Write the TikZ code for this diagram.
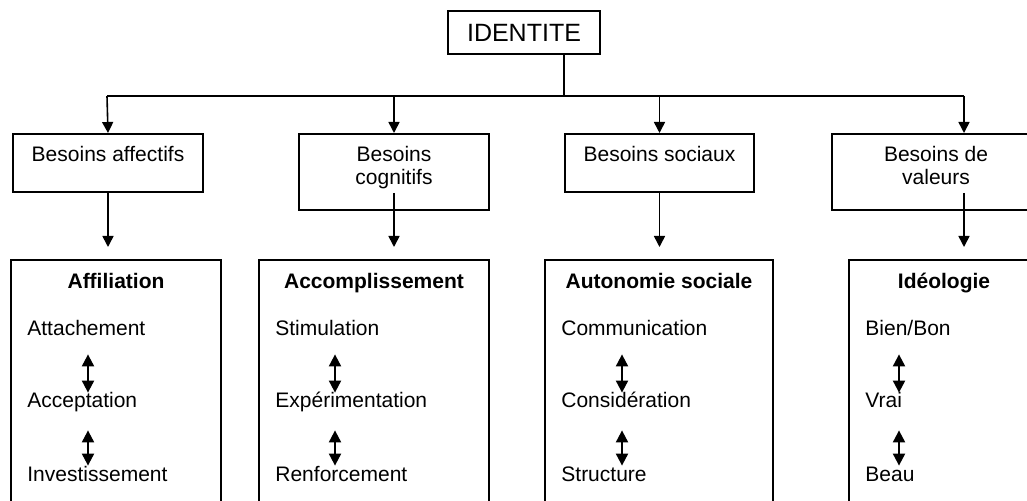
\documentclass[tikz,border=0pt]{standalone}
\usepackage{fontspec}
\setmainfont{Liberation Sans}
\usetikzlibrary{arrows.meta,positioning}

\tikzset{
	need/.style={draw, line width=1pt, inner sep=0pt},
	lab/.style={inner sep=0pt, align=center, font=\fontsize{10.5}{11.5}\selectfont},
	titre/.style={inner sep=0pt, font=\fontsize{10.5}{12}\selectfont\bfseries},
	item/.style={inner sep=0pt, anchor=base west, text height=8pt, text depth=2.5pt, font=\fontsize{10.5}{12}\selectfont},
	down/.style={-{Triangle[width=5.5pt,length=5.5pt]}, line width=0.8pt},
	both/.style={{Triangle[width=6pt,length=6pt]}-{Triangle[width=6pt,length=6pt]}, line width=1pt, shorten <=6.5pt, shorten >=-0.5pt}
}

\begin{document}
\begin{tikzpicture}[x=0.5pt, y=-0.5pt]
\useasboundingbox (0,0) rectangle (1027,501);
\clip (0,0) rectangle (1027,501);

\node[need, minimum width=76pt, minimum height=21.5pt, font=\fontsize{12.5}{15}\selectfont] (identite) at (524,32.5) {IDENTITE};
\coordinate (split) at (564,96);
\coordinate (h1) at (107,96);
\coordinate (h4) at (964,96);

\node[need, anchor=north west, minimum width=95pt, minimum height=29pt] (affectifs) at (12,133) {};
\node[need, anchor=north west, minimum width=95pt, minimum height=38pt] (cognitifs) at (298,133) {};
\node[need, anchor=north west, minimum width=94.5pt, minimum height=29pt] (sociaux) at (564,133) {};
\node[need, anchor=north west, minimum width=104pt, minimum height=38pt] (valeurs) at (831,133) {};

\node[lab, below=6.5pt of affectifs.north] (l1) {Besoins affectifs};
\node[lab, below=6.5pt of cognitifs.north] (l2) {Besoins\\cognitifs};
\node[lab, below=6.5pt of sociaux.north] (l3) {Besoins sociaux};
\node[lab, below=6.5pt of valeurs.north] (l4) {Besoins de\\valeurs};

\draw[line width=1pt] (identite.south -| split) -- (split);
\draw[line width=1pt] (h1) -- (h4);
\draw[down] (h1) -- (affectifs.north);
\draw[down] (cognitifs.north |- split) -- (cognitifs.north);
\draw[down] (sociaux.north |- split) -- (sociaux.north);
\draw[down] (h4) -- (h4 |- valeurs.north);

\node[need, anchor=north west, minimum width=105pt, minimum height=130pt] (affiliation) at (10,259) {};
\node[need, anchor=north west, minimum width=115pt, minimum height=130pt] (accomp) at (258,259) {};
\node[need, anchor=north west, minimum width=114pt, minimum height=130pt] (autonomie) at (544,259) {};
\node[need, anchor=north west, minimum width=95pt, minimum height=130pt] (ideologie) at (848,259) {};

\draw[down, shorten >=6pt] (affectifs.south) -- (affectifs.south |- affiliation.north);
\draw[down, shorten >=6pt] (cognitifs.south |- affectifs.south) -- (cognitifs.south |- accomp.north);
\draw[down, shorten >=6pt] (sociaux.south) -- (sociaux.south |- autonomie.north);
\draw[down, shorten >=6pt] (h4 |- affectifs.south) -- (h4 |- ideologie.north);

\node[titre, below=7pt of affiliation.north] (t1) {Affiliation};
\node[titre, below=7pt of accomp.north] (t2) {Accomplissement};
\node[titre, below=7pt of autonomie.north] (t3) {Autonomie sociale};
\node[titre, below=7pt of ideologie.north] (t4) {Idéologie};

\node[item] (att) at (27,336) {Attachement};
\node[item] (acc) at (27,408) {Acceptation};
\node[item] (inv) at (27,481) {Investissement};
\node[item] (sti) at (275,336) {Stimulation};
\node[item] (exp) at (275,408) {Expérimentation};
\node[item] (ren) at (275,481) {Renforcement};
\node[item] (com) at (561,336) {Communication};
\node[item] (con) at (561,408) {Considération};
\node[item] (str) at (561,481) {Structure};
\node[item] (bie) at (865,336) {Bien/Bon};
\node[item] (vra) at (865,408) {Vrai};
\node[item] (bea) at (865,481) {Beau};

\draw[both] ([xshift=30.5pt]att.south west) -- ([xshift=30.5pt]acc.north west);
\draw[both, shorten <=8.5pt] ([xshift=30.5pt]acc.south west) -- ([xshift=30.5pt]inv.north west);
\draw[both] ([xshift=30pt]sti.south west) -- ([xshift=30pt]exp.north west);
\draw[both, shorten <=8.5pt] ([xshift=30pt]exp.south west) -- ([xshift=30pt]ren.north west);
\draw[both] ([xshift=30.5pt]com.south west) -- ([xshift=30.5pt]con.north west);
\draw[both, shorten <=8.5pt] ([xshift=30.5pt]con.south west) -- ([xshift=30.5pt]str.north west);
\draw[both] ([xshift=17pt]bie.south west) -- ([xshift=17pt]vra.north west);
\draw[both, shorten <=8.5pt] ([xshift=17pt]vra.south west) -- ([xshift=17pt]bea.north west);
\end{tikzpicture}
\end{document}
